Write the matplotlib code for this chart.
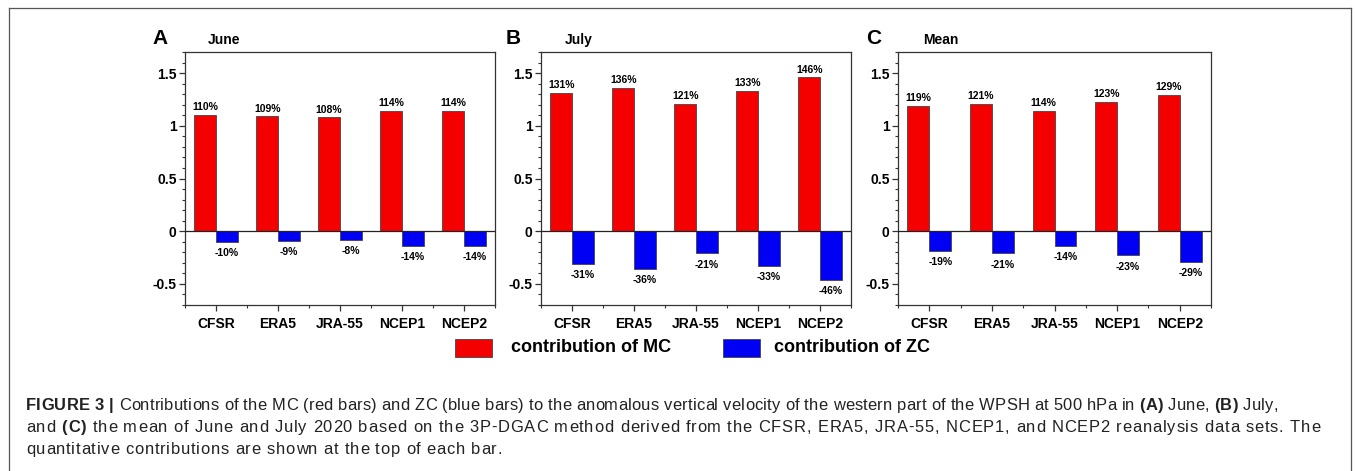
import matplotlib
matplotlib.use('Agg')
import matplotlib.pyplot as plt
import matplotlib.ticker as mticker
from matplotlib import font_manager
from matplotlib.font_manager import FontProperties
from matplotlib.ft2font import FT2Font
from matplotlib.lines import Line2D
from matplotlib.patches import Rectangle
import numpy as np

plt.rcParams['font.family'] = ['Liberation Sans', 'DejaVu Sans']

# data
datasets = ['CFSR', 'ERA5', 'JRA-55', 'NCEP1', 'NCEP2']
panel_letters = ['A', 'B', 'C']
panel_titles = ['June', 'July', 'Mean']

mc_june = [1.10, 1.09, 1.08, 1.14, 1.14]
zc_june = [-0.10, -0.09, -0.08, -0.14, -0.14]
mc_july = [1.31, 1.36, 1.21, 1.33, 1.46]
zc_july = [-0.31, -0.36, -0.21, -0.33, -0.46]
mc_mean = [1.19, 1.21, 1.14, 1.23, 1.29]
zc_mean = [-0.19, -0.21, -0.14, -0.23, -0.29]

mc_all = [mc_june, mc_july, mc_mean]
zc_all = [zc_june, zc_july, zc_mean]

W, H = 1355, 471
fig = plt.figure(figsize=(W / 100, H / 100), dpi=100)

RED = '#f50000'
BLUE = '#0000f5'
EDGE = '#444444'

def px_axes(l, t, r, b):
    return fig.add_axes([l / W, 1 - b / H, (r - l) / W, (b - t) / H])

panel_px = [(185, 52, 495, 305), (541, 52, 851, 305), (898, 52, 1211, 305)]
letter_x = [152, 506, 866]
title_x = [208, 565, 923]

x = np.arange(len(datasets))
bw = 0.35

for i in range(3):
    ax = px_axes(*panel_px[i])
    mc = mc_all[i]
    zc = zc_all[i]
    ax.bar(x - bw / 2, mc, bw, color=RED, edgecolor=EDGE, linewidth=0.6, zorder=3)
    ax.bar(x + bw / 2, zc, bw, color=BLUE, edgecolor=EDGE, linewidth=0.6, zorder=3)
    ax.axhline(0, color='#222222', linewidth=0.9, zorder=4)

    for j in range(len(datasets)):
        ax.annotate('%d%%' % round(mc[j] * 100), (x[j] - bw / 2, mc[j]),
                    xytext=(0, 2), textcoords='offset points',
                    ha='center', va='bottom', fontsize=7.5, fontweight='bold')
        ax.annotate('%d%%' % round(zc[j] * 100), (x[j] + bw / 2, zc[j]),
                    xytext=(0, -4.5), textcoords='offset points',
                    ha='center', va='top', fontsize=7.5, fontweight='bold')

    ax.set_xlim(-0.5, 4.5)
    ax.set_ylim(-0.7, 1.7)
    ax.set_xticks(x)
    ax.set_xticklabels(datasets, fontsize=10, fontweight='bold')
    ax.xaxis.set_minor_locator(mticker.FixedLocator(np.arange(-0.5, 5, 1.0)))
    ax.set_yticks([-0.5, 0, 0.5, 1, 1.5])
    ax.set_yticklabels(['-0.5', '0', '0.5', '1', '1.5'], fontsize=10, fontweight='bold')
    ax.yaxis.set_minor_locator(mticker.MultipleLocator(0.1))
    ax.tick_params(axis='both', which='major', direction='out', length=4,
                   width=0.9, color='#333333', pad=2)
    ax.tick_params(axis='both', which='minor', direction='out', length=2.5,
                   width=0.8, color='#333333')
    ax.tick_params(axis='x', pad=5)
    for s in ax.spines.values():
        s.set_color('#333333')
        s.set_linewidth(0.9)

    fig.text(letter_x[i] / W, 1 - 44 / H, panel_letters[i], fontsize=15,
             fontweight='bold', ha='left', va='baseline')
    fig.text(title_x[i] / W, 1 - 44 / H, panel_titles[i], fontsize=10,
             fontweight='bold', ha='left', va='baseline')

# legend drawn as patches + text
for (lx, col, lab, tx) in [(455, RED, 'contribution of MC', 511),
                           (723, BLUE, 'contribution of ZC', 774)]:
    fig.patches.append(Rectangle((lx / W, 1 - 357 / H), 37 / W, 18 / H,
                                 transform=fig.transFigure, facecolor=col,
                                 edgecolor=EDGE, linewidth=0.6))
    fig.text(tx / W, 1 - 348 / H, lab, fontsize=13, fontweight='bold',
             ha='left', va='center')

# frame around the whole figure
fcol = '#555555'
fig.add_artist(Line2D([9 / W, 9 / W], [0, 1 - 8 / H], transform=fig.transFigure,
                      color=fcol, linewidth=0.9))
fig.add_artist(Line2D([1351 / W, 1351 / W], [0, 1 - 8 / H], transform=fig.transFigure,
                      color=fcol, linewidth=0.9))
fig.add_artist(Line2D([9 / W, 1351 / W], [1 - 8 / H, 1 - 8 / H], transform=fig.transFigure,
                      color=fcol, linewidth=0.9))

# caption with mixed bold / regular pieces, letter-spaced to the original line widths
caption = [
    [('FIGURE 3 | ', 'bold'),
     ('Contributions of the MC (red bars) and ZC (blue bars) to the anomalous vertical '
      'velocity of the western part of the WPSH at 500 hPa in ', 'normal'),
     ('(A)', 'bold'), (' June, ', 'normal'), ('(B)', 'bold'), (' July,', 'normal')],
    [('and ', 'normal'), ('(C)', 'bold'),
     (' the mean of June and July 2020 based on the 3P-DGAC method derived from the '
      'CFSR, ERA5, JRA-55, NCEP1, and NCEP2 reanalysis data sets. The', 'normal')],
    [('quantitative contributions are shown at the top of each bar.', 'normal')],
]
line_base = [410, 432, 454]
line_end = [1278, 1320, 502]
cap_fs = 11.9
x0 = 26

fonts = {}
for wt in ['normal', 'bold']:
    path = font_manager.findfont(FontProperties(family='Liberation Sans', weight=wt))
    f = FT2Font(path)
    f.set_size(cap_fs, 100)
    fonts[wt] = f

def advance(c, wt):
    g = fonts[wt].load_char(ord(c))
    return g.linearHoriAdvance / 65536.0

for row, yb, xe in zip(caption, line_base, line_end):
    chars = [(c, wt) for txt, wt in row for c in txt]
    natural = sum(advance(c, wt) for c, wt in chars)
    track = (xe - x0 - natural) / (len(chars) - 1)
    xx = x0
    for c, wt in chars:
        if c != ' ':
            fig.text(xx / W, 1 - yb / H, c, fontsize=cap_fs, fontweight=wt,
                     ha='left', va='baseline', color='#222222')
        xx += advance(c, wt) + track

fig.savefig('out.png', dpi=100)
